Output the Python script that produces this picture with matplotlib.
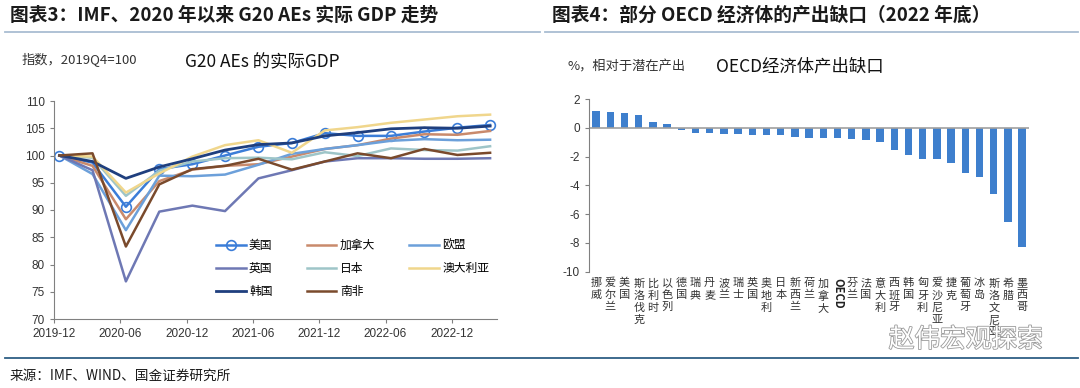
import numpy as np
import pandas as pd
import matplotlib
matplotlib.use("Agg")
from matplotlib import pyplot as plt
from matplotlib.lines import Line2D
import matplotlib.dates as mdates
import matplotlib.patheffects as pe

plt.rcParams['font.family'] = ['Noto Sans CJK SC', 'DejaVu Sans']
plt.rcParams['axes.unicode_minus'] = False

# ---- left chart data: real GDP index, 2019Q4 = 100
quarters = ["2019-12", "2020-03", "2020-06", "2020-09", "2020-12", "2021-03", "2021-06",
            "2021-09", "2021-12", "2022-03", "2022-06", "2022-09", "2022-12", "2023-03"]
us = [100, 98.7, 90.6, 97.5, 98.4, 100.0, 101.6, 102.3, 104.1, 103.6, 103.6, 104.4, 105.1, 105.6]
canada = [100, 98.1, 88.3, 95.3, 97.4, 98.1, 98.4, 99.8, 101.2, 101.9, 103.1, 103.9, 103.8, 104.5]
eu = [100, 96.6, 86.3, 96.3, 96.2, 96.5, 98.3, 100.3, 101.2, 101.9, 102.7, 103.0, 102.8, 102.9]
uk = [100, 97.3, 76.9, 89.7, 90.8, 89.8, 95.8, 97.3, 98.9, 99.5, 99.5, 99.4, 99.4, 99.5]
japan = [100, 99.6, 92.6, 97.2, 98.9, 99.5, 99.6, 99.3, 100.6, 99.9, 101.3, 101.0, 100.9, 101.7]
australia = [100, 99.8, 93.2, 96.7, 99.8, 101.9, 102.8, 100.5, 104.6, 105.2, 106.0, 106.6, 107.2, 107.5]
korea = [100, 98.9, 95.8, 97.9, 99.4, 101.0, 102.0, 102.3, 103.6, 104.2, 104.9, 105.1, 105.0, 105.4]
safrica = [100, 100.4, 83.3, 94.7, 97.5, 98.1, 99.4, 97.4, 98.9, 100.4, 99.5, 101.2, 100.1, 100.5]

series_names = ["美国", "加拿大", "欧盟", "英国", "日本", "澳大利亚", "韩国", "南非"]
series_vals = [us, canada, eu, uk, japan, australia, korea, safrica]
series_colors = ["#3B7DD8", "#C98A6C", "#6CA0DA", "#6E78B4", "#9EC5C8", "#F0D68C", "#1F3F7E", "#7A4A2C"]
date_ticks = ["2019-12", "2020-06", "2020-12", "2021-06", "2021-12", "2022-06", "2022-12"]

# ---- right chart data: output gap, end of 2022
countries = ["挪威", "爱尔兰", "美国", "斯洛伐克", "比利时", "以色列", "德国", "瑞典", "丹麦",
             "波兰", "瑞士", "英国", "奥地利", "日本", "新西兰", "荷兰", "加拿大", "OECD",
             "芬兰", "法国", "意大利", "西班牙", "韩国", "匈牙利", "爱沙尼亚", "捷克",
             "葡萄牙", "冰岛", "斯洛文尼亚", "希腊", "墨西哥"]
gap = [1.19, 1.12, 1.0, 0.86, 0.37, 0.28, -0.14, -0.35, -0.35, -0.42, -0.42, -0.47, -0.47,
       -0.51, -0.67, -0.70, -0.70, -0.70, -0.81, -0.86, -1.02, -1.56, -1.86, -2.16, -2.16,
       -2.42, -3.12, -3.44, -4.58, -6.53, -8.26]

fig = plt.figure(figsize=(10.8, 3.88), dpi=100)

# titles and rules
title_kw = dict(fontsize=13.5, fontweight='bold', color='#1a1a1a', va='center')
fig.text(10 / 1080, 1 - 15 / 388, "图表3：IMF、2020 年以来 G20 AEs 实际 GDP 走势", **title_kw)
fig.text(552 / 1080, 1 - 15 / 388, "图表4：部分 OECD 经济体的产出缺口（2022 年底）", **title_kw)
fig.add_artist(Line2D([5 / 1080, 540 / 1080], [1 - 32 / 388] * 2, color='#A9BDD2', lw=1.3))
fig.add_artist(Line2D([545 / 1080, 1078 / 1080], [1 - 32 / 388] * 2, color='#A9BDD2', lw=1.3))
fig.add_artist(Line2D([5 / 1080, 1078 / 1080], [1 - 358 / 388] * 2, color='#2E5F85', lw=1.3))
fig.text(10 / 1080, 1 - 376 / 388, "来源：IMF、WIND、国金证券研究所", fontsize=9.8, color='#1a1a1a', va='center')

fig.text(22 / 1080, 1 - 60 / 388, "指数，2019Q4=100", fontsize=9.5, color='#333333', va='center')
fig.text(185 / 1080, 1 - 62 / 388, "G20 AEs 的实际GDP", fontsize=12.5, color='#111111', va='center')
fig.text(567 / 1080, 1 - 67 / 388, "%，相对于潜在产出", fontsize=9.5, color='#333333', va='center')
fig.text(716 / 1080, 1 - 67 / 388, "OECD经济体产出缺口", fontsize=12.5, color='#111111', va='center')

# ---- left chart
ax1 = fig.add_axes([54 / 1080, 1 - 319 / 388, 443 / 1080, 218 / 388])
dates = pd.to_datetime(quarters) + pd.Timedelta(days=15)
handles = {}
for name, vals, col in zip(series_names, series_vals, series_colors):
    if name == "美国":
        h, = ax1.plot(dates, vals, color=col, lw=1.8, marker='o', ms=7, mfc='none',
                      mec=col, mew=1.2, markevery=[0] + list(range(2, len(vals))))
    elif name == "韩国":
        h, = ax1.plot(dates, vals, color=col, lw=2.0)
    else:
        h, = ax1.plot(dates, vals, color=col, lw=1.8)
    handles[name] = h

ax1.set_ylim(70, 110)
ax1.set_yticks(range(70, 111, 5))
ax1.set_xlim(pd.Timestamp("2019-12-01"), pd.Timestamp("2023-04-04"))
ax1.set_xticks(pd.to_datetime(date_ticks))
ax1.xaxis.set_major_formatter(mdates.DateFormatter("%Y-%m"))
for s in ["top", "right"]:
    ax1.spines[s].set_visible(False)
for s in ["left", "bottom"]:
    ax1.spines[s].set_color('#808080')
ax1.tick_params(axis='both', direction='out', length=3, color='#808080', labelsize=8.5,
                labelcolor='#333333')
for lab in ax1.get_xticklabels() + ax1.get_yticklabels():
    lab.set_family('Liberation Sans')

order = ["美国", "英国", "韩国", "加拿大", "日本", "南非", "欧盟", "澳大利亚"]
ax1.legend([handles[n] for n in order], order, ncol=3, loc='upper left',
           bbox_to_anchor=(0.355, 0.39), frameon=False, fontsize=8.5, handlelength=2.5,
           columnspacing=2.9, labelspacing=0.85, handletextpad=0.3, borderaxespad=0)

# ---- right chart
ax2 = fig.add_axes([589 / 1080, 1 - 271.7 / 388, 439.5 / 1080, 172.7 / 388])
xs = np.arange(len(countries))
ax2.bar(xs, gap, width=0.52, color='#3E7FCD')
ax2.axhline(0, color='#A0A0A0', lw=1.2)
ax2.set_xlim(-0.5, 30.45)
ax2.set_ylim(-10, 2)
ax2.set_yticks(range(-10, 3, 2))
ax2.set_xticks([])
for s in ["top", "right", "bottom"]:
    ax2.spines[s].set_visible(False)
ax2.spines["left"].set_color('#808080')
ax2.tick_params(axis='y', direction='out', length=3, color='#808080', labelsize=8.5,
                labelcolor='#333333')
for lab in ax2.get_yticklabels():
    lab.set_family('Liberation Sans')
for x, name in zip(xs, countries):
    if name == "OECD":
        ax2.text(x, -10.45, name, rotation=-90, ha='center', va='top', fontsize=8,
                 fontweight='bold', color='#222222', clip_on=False)
    else:
        ax2.text(x, -10.45, "\n".join(name), ha='center', va='top', fontsize=8,
                 linespacing=1.25, color='#333333', clip_on=False)

# watermark
fig.text(966 / 1080, 1 - 340 / 388, "赵伟宏观探索", fontsize=18.5, color='white', ha='center',
         va='center', path_effects=[pe.withStroke(linewidth=1.2, foreground='#9A9A9A')])

fig.savefig("out.png", dpi=100)
